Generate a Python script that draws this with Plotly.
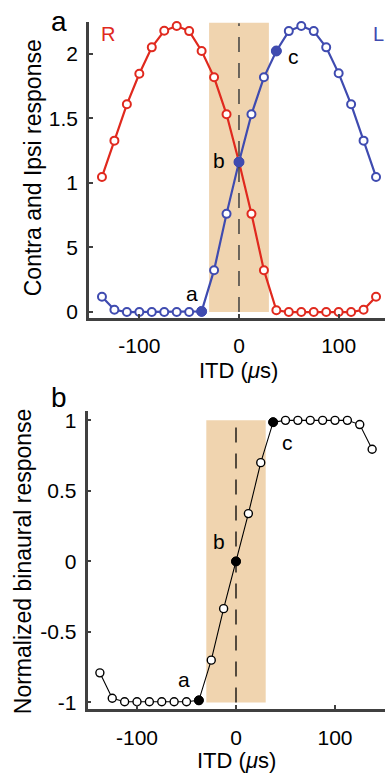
import plotly.graph_objects as go

# ---------------- data ----------------
itd = [-137.5, -125, -112.5, -100, -87.5, -75, -62.5, -50, -37.5, -25, -12.5, 0,
       12.5, 25, 37.5, 50, 62.5, 75, 87.5, 100, 112.5, 125, 137.5]

resp_R = [1.046, 1.327, 1.608, 1.845, 2.049, 2.177, 2.215, 2.175, 2.021, 1.817, 1.531, 1.161,
          0.760, 0.324, 0.014, 0.0, 0.0, 0.0, 0.0, 0.0, 0.0, 0.018, 0.118]
resp_L = [0.118, 0.018, 0.0, 0.0, 0.0, 0.0, 0.0, 0.0, 0.005, 0.324, 0.760, 1.161,
          1.531, 1.817, 2.021, 2.175, 2.215, 2.175, 2.049, 1.848, 1.608, 1.327, 1.046]
binaural = [-0.79, -0.97, -0.995, -0.995, -0.995, -0.995, -0.995, -0.995, -0.985, -0.70, -0.335, 0.0,
            0.339, 0.70, 0.987, 1.0, 1.0, 1.0, 1.0, 1.0, 1.0, 0.97, 0.795]

highlight_itd = [-37.5, 0, 37.5]
highlight_labels = ["a", "b", "c"]
shade_itd = [-30, 30]

x_tickvals = [-100, 0, 100]
x_ticktext = ["-100", "0", "100"]
ya_tickvals = [0, 0.5, 1, 1.5, 2]
ya_ticktext = ["0", "5", "1", "1.5", "2"]
yb_tickvals = [-1, -0.5, 0, 0.5, 1]
yb_ticktext = ["-1", "-0.5", "0", "0.5", "1"]

# ---------------- style ----------------
W, H = 385, 778
RED = "#E0291E"
BLUE = "#3F4BB0"
SHADE = "#F0D4AF"
AX = "#404040"
FONT = "Liberation Sans, Arial, sans-serif"


def px_x(p):
    return p / W


def px_y(p):
    return 1 - p / H


fig = go.Figure()

hl_idx = [itd.index(v) for v in highlight_itd]

# ---- panel a ----
fig.add_trace(go.Scatter(x=itd, y=resp_R, mode="lines+markers", xaxis="x", yaxis="y",
                         line=dict(color=RED, width=2.2),
                         marker=dict(symbol="circle", size=8, color="white",
                                     line=dict(color=RED, width=2)),
                         cliponaxis=False, showlegend=False))
fig.add_trace(go.Scatter(x=itd, y=resp_L, mode="lines+markers", xaxis="x", yaxis="y",
                         line=dict(color=BLUE, width=2.2),
                         marker=dict(symbol="circle", size=8, color="white",
                                     line=dict(color=BLUE, width=2)),
                         cliponaxis=False, showlegend=False))
fig.add_trace(go.Scatter(x=[itd[i] for i in hl_idx], y=[resp_L[i] for i in hl_idx],
                         mode="markers", xaxis="x", yaxis="y",
                         marker=dict(symbol="circle", size=10, color=BLUE,
                                     line=dict(color=BLUE, width=1)),
                         cliponaxis=False, showlegend=False))
# dashed line at 0
fig.add_trace(go.Scatter(x=[0, 0], y=[0, 2.235], mode="lines", xaxis="x", yaxis="y",
                         line=dict(color=AX, width=1.5, dash="15px,11px"),
                         showlegend=False, hoverinfo="skip"))

# ---- panel b ----
fig.add_trace(go.Scatter(x=itd, y=binaural, mode="lines+markers", xaxis="x2", yaxis="y2",
                         line=dict(color="black", width=1.1),
                         marker=dict(symbol="circle", size=8, color="white",
                                     line=dict(color="black", width=1.4)),
                         cliponaxis=False, showlegend=False))
fig.add_trace(go.Scatter(x=[itd[i] for i in hl_idx], y=[binaural[i] for i in hl_idx],
                         mode="markers", xaxis="x2", yaxis="y2",
                         marker=dict(symbol="circle", size=9, color="black",
                                     line=dict(color="black", width=1)),
                         cliponaxis=False, showlegend=False))
fig.add_trace(go.Scatter(x=[0, 0], y=[-1, 1], mode="lines", xaxis="x2", yaxis="y2",
                         line=dict(color="black", width=1.3, dash="15px,11px"),
                         showlegend=False, hoverinfo="skip"))

shapes = [
    dict(type="rect", xref="x", yref="y", x0=shade_itd[0], x1=shade_itd[1], y0=0, y1=2.24,
         fillcolor=SHADE, line=dict(width=0), layer="below"),
    dict(type="rect", xref="x2", yref="y2", x0=shade_itd[0], x1=shade_itd[1], y0=-1, y1=1,
         fillcolor=SHADE, line=dict(width=0), layer="below"),
]

axis_common = dict(showgrid=False, zeroline=False, showline=True, linecolor=AX, linewidth=2.5,
                   ticks="inside", ticklen=4, tickwidth=2, tickcolor=AX,
                   tickfont=dict(family=FONT, size=21, color="black"))

annotations = []
# point labels panel a
shifts_a = [(-10, 18), (-20, 2), (17, -6)]
for i, lab, (dx, dy) in zip(hl_idx, highlight_labels, shifts_a):
    annotations.append(dict(x=itd[i], y=resp_L[i], xref="x", yref="y", text=lab, showarrow=False,
                            xanchor="center", yanchor="middle",
                            xshift=dx, yshift=dy, font=dict(family=FONT, size=21, color="black")))
shifts_b = [(-15, 21), (-17, 20), (14, -20)]
for i, lab, (dx, dy) in zip(hl_idx, highlight_labels, shifts_b):
    annotations.append(dict(x=itd[i], y=binaural[i], xref="x2", yref="y2", text=lab,
                            showarrow=False, xshift=dx, yshift=dy,
                            xanchor="center", yanchor="middle",
                            font=dict(family=FONT, size=21, color="black")))


def ptext(x, y, text, size, color="black", angle=0):
    return dict(x=px_x(x), y=px_y(y), xref="paper", yref="paper", text=text, showarrow=False,
                xanchor="center", yanchor="middle", textangle=angle,
                font=dict(family=FONT, size=size, color=color))


annotations += [
    ptext(107.5, 32, "R", 20, RED),
    ptext(378, 32, "L", 20, BLUE),
    ptext(58.5, 20, "a", 28),
    ptext(59, 400, "b", 28),
    ptext(238, 372, "ITD (<i>μ</i>s)", 22),
    ptext(236, 766, "ITD (<i>μ</i>s)", 22),
    ptext(33, 168, "Contra and Ipsi response", 23, angle=-90),
    ptext(23, 565, "Normalized binaural response", 23, angle=-90),
]

fig.update_layout(
    width=W, height=H,
    margin=dict(l=0, r=0, t=0, b=0),
    paper_bgcolor="white", plot_bgcolor="white",
    font=dict(family=FONT, color="black"),
    showlegend=False,
    xaxis=dict(domain=[px_x(89), 1], range=[-150.5, 146.5], tickvals=x_tickvals,
               ticktext=x_ticktext, ticklabelstandoff=7, anchor="y", **axis_common),
    yaxis=dict(domain=[px_y(319), px_y(20)], range=[-0.044, 2.247], tickvals=ya_tickvals,
               ticktext=ya_ticktext, ticklabelstandoff=4, anchor="x", **axis_common),
    xaxis2=dict(domain=[px_x(87.5), 1], range=[-150, 150.5], tickvals=x_tickvals,
                ticktext=x_ticktext, ticklabelstandoff=8, anchor="y2", **axis_common),
    yaxis2=dict(domain=[px_y(714), px_y(413)], range=[-1.044, 1.068], tickvals=yb_tickvals,
                ticktext=yb_ticktext, ticklabelstandoff=4, anchor="x2", **axis_common),
    shapes=shapes,
    annotations=annotations,
)

fig.write_html("out.html")
